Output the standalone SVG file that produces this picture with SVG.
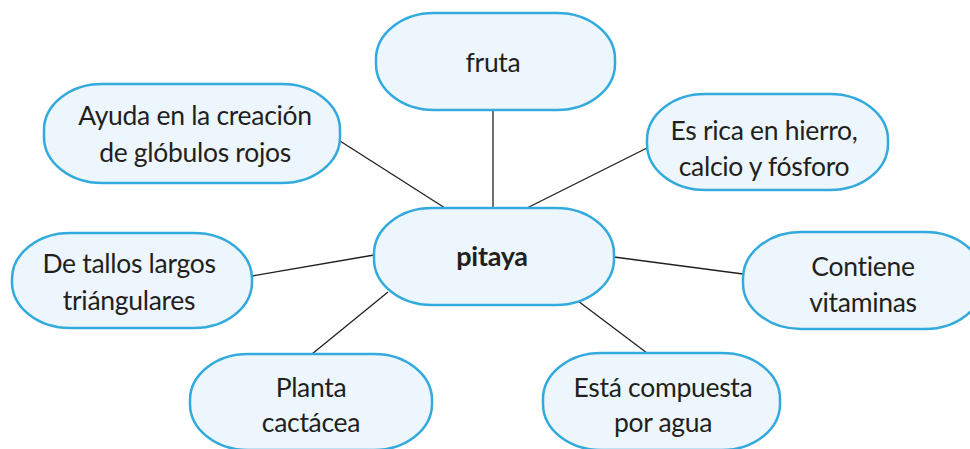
<svg xmlns="http://www.w3.org/2000/svg" width="970" height="449" viewBox="0 0 970 449">
<style>
.box{fill:#edf6fc;stroke:#32aadd;stroke-width:2.5}
.t{font-family:Lato,"Open Sans","Liberation Sans",sans-serif;font-size:26.5px;fill:#231f20;text-anchor:middle;letter-spacing:-0.3px}
.b{font-weight:bold;font-size:27px}
.c{stroke:#231f20;stroke-width:1.3;fill:none}
</style>
<rect width="970" height="449" fill="#ffffff"/>
<g id="connectors">
<line class="c" x1="493" y1="111" x2="493" y2="208"/>
<line class="c" x1="340" y1="141" x2="445" y2="208"/>
<line class="c" x1="647" y1="148" x2="527" y2="208"/>
<line class="c" x1="252" y1="276" x2="374" y2="255"/>
<line class="c" x1="614" y1="257" x2="743" y2="274"/>
<line class="c" x1="388" y1="292" x2="312" y2="354"/>
<line class="c" x1="578" y1="301" x2="647" y2="353"/>
</g>
<g id="fruta">
<rect class="box" x="376" y="13" width="239" height="97" rx="58" ry="46"/>
<text class="t" x="493" y="72">fruta</text>
</g>
<g id="pitaya">
<rect class="box" x="374" y="208" width="240" height="97" rx="58" ry="46"/>
<text class="t b" x="492" y="266">pitaya</text>
</g>
<g id="ayuda">
<rect class="box" x="44" y="84" width="296" height="99" rx="58" ry="46"/>
<text class="t" x="195" y="125">Ayuda en la creación</text>
<text class="t" x="195" y="162">de glóbulos rojos</text>
</g>
<g id="esrica">
<rect class="box" x="647" y="94" width="241" height="96" rx="58" ry="46"/>
<text class="t" x="764" y="140">Es rica en hierro,</text>
<text class="t" x="764" y="176">calcio y fósforo</text>
</g>
<g id="tallos">
<rect class="box" x="12" y="233" width="240" height="95" rx="58" ry="46"/>
<text class="t" x="129" y="273">De tallos largos</text>
<text class="t" x="129" y="310">triángulares</text>
</g>
<g id="contiene">
<rect class="box" x="743" y="232" width="240" height="97" rx="58" ry="46"/>
<text class="t" x="863" y="276">Contiene</text>
<text class="t" x="863" y="312">vitaminas</text>
</g>
<g id="planta">
<rect class="box" x="190" y="354" width="242" height="96" rx="58" ry="46"/>
<text class="t" x="311" y="397">Planta</text>
<text class="t" x="311" y="432">cactácea</text>
</g>
<g id="esta">
<rect class="box" x="543" y="353" width="237" height="97" rx="58" ry="46"/>
<text class="t" x="663" y="397">Está compuesta</text>
<text class="t" x="663" y="432">por agua</text>
</g>
</svg>
